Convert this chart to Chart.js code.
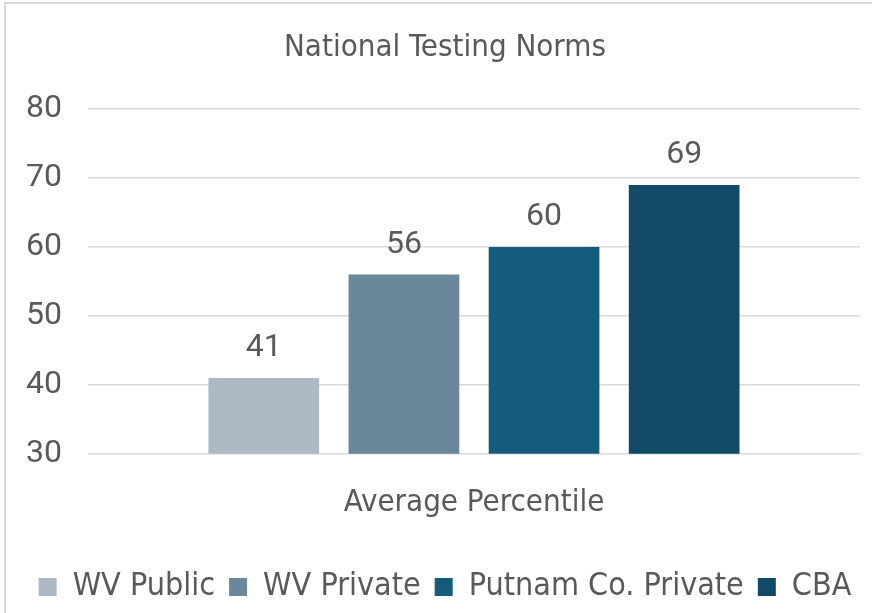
<!DOCTYPE html>
<html>
<head>
<meta charset="utf-8">
<title>National Testing Norms</title>
<script src="https://cdn.jsdelivr.net/npm/chart.js@4.4.1/dist/chart.umd.min.js"></script>
<style>
  html, body { margin: 0; padding: 0; background: #fff; overflow: hidden; }
  #frame {
    position: absolute; left: 4px; top: 2px; width: 900px; height: 700px;
    border-left: 2px solid #d9d9d9; border-top: 2px solid #d9d9d9;
  }
  #wrap { position: absolute; left: 0; top: 0; width: 890px; height: 613px; }
</style>
</head>
<body>
<div id="frame"></div>
<div id="wrap"><canvas id="chart" width="890" height="613"></canvas></div>
<script>
// --- data ---
const categories = ['Average Percentile'];
const seriesNames = ['WV Public', 'WV Private', 'Putnam Co. Private', 'CBA'];
const seriesValues = [41, 56, 60, 69];
const seriesColors = ['#adb9c4', '#6a879b', '#155b7b', '#114966'];
const yTicks = [30, 40, 50, 60, 70, 80];

const TEXT = '#595959';
const NARROW = "'Liberation Sans Narrow', 'DejaVu Sans Condensed', 'Roboto', sans-serif";
const PLAIN = "'Roboto', 'Liberation Sans', sans-serif";

// value labels above each bar (no datalabels plugin offline)
const valueLabels = {
  id: 'valueLabels',
  afterDatasetsDraw(chart) {
    const ctx = chart.ctx;
    ctx.save();
    ctx.fillStyle = TEXT;
    ctx.font = '32px ' + PLAIN;
    ctx.textAlign = 'center';
    ctx.textBaseline = 'alphabetic';
    chart.data.datasets.forEach((ds, i) => {
      const meta = chart.getDatasetMeta(i);
      meta.data.forEach((bar, j) => {
        ctx.fillText(String(ds.data[j]), bar.x, bar.y - 22);
      });
    });
    ctx.restore();
  }
};

const datasets = seriesNames.map((name, i) => ({
  label: name,
  data: [seriesValues[i]],
  backgroundColor: seriesColors[i],
  borderWidth: 0,
  categoryPercentage: 0.726,
  barPercentage: 0.79
}));

new Chart(document.getElementById('chart').getContext('2d'), {
  type: 'bar',
  data: { labels: categories, datasets },
  plugins: [valueLabels],
  options: {
    responsive: false,
    animation: false,
    layout: { padding: { left: 0, right: 0, top: 20, bottom: 0 } },
    plugins: {
      title: {
        display: true,
        text: 'National Testing Norms',
        color: TEXT,
        font: { family: NARROW, size: 31, weight: 'normal' },
        padding: { top: 9, bottom: 43 }
      },
      legend: {
        position: 'bottom',
        labels: {
          color: TEXT,
          font: { family: NARROW, size: 32 },
          boxWidth: 18,
          boxHeight: 18,
          padding: 14
        }
      },
      tooltip: { enabled: false }
    },
    scales: {
      x: {
        grid: { display: false },
        border: { display: false },
        ticks: { color: TEXT, font: { family: NARROW, size: 31 }, padding: 23 },
        // extra room under the category label, before the legend
        afterFit: (axis) => { axis.height += 12; }
      },
      y: {
        min: 30,
        max: 80,
        afterBuildTicks: (axis) => { axis.ticks = yTicks.map(v => ({ value: v })); },
        grid: { color: '#d9d9d9', lineWidth: 1.5, drawTicks: false },
        border: { display: false },
        ticks: { color: TEXT, font: { family: PLAIN, size: 32 }, padding: 26 }
      },
      // empty right-hand spacer so the title and legend centre like the original frame
      y2: {
        position: 'right',
        display: true,
        min: 30,
        max: 80,
        grid: { display: false },
        border: { display: false },
        ticks: { display: false },
        afterFit: (axis) => { axis.width = 30; }
      }
    }
  }
});
</script>
</body>
</html>
